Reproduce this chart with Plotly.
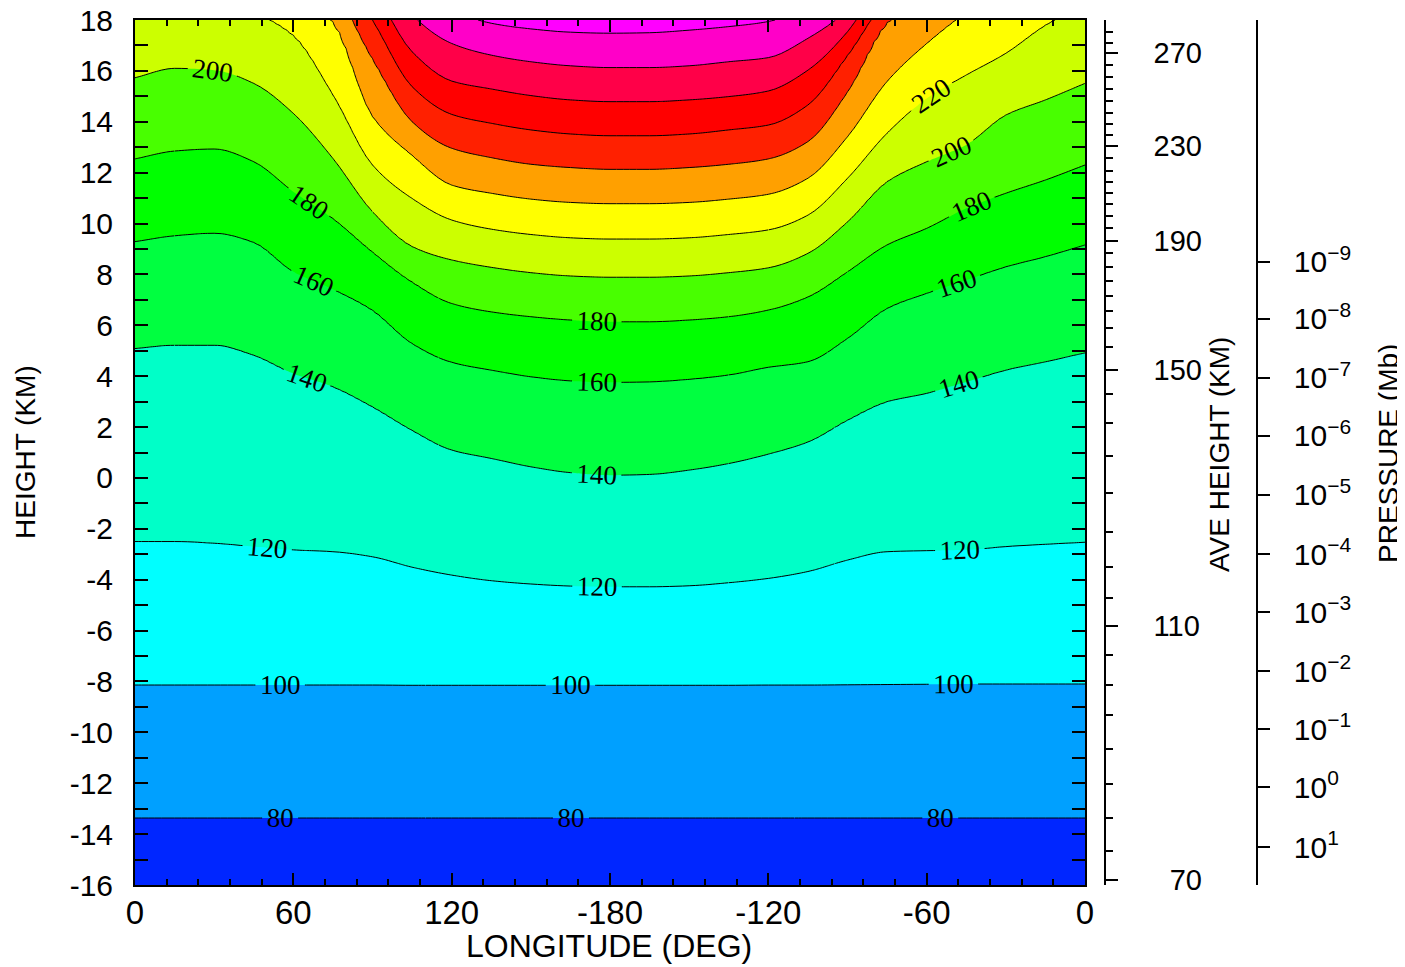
import numpy as np
import plotly.graph_objects as go

# ---------------- data ----------------
LONGITUDE = [0, 15, 30, 45, 60, 75, 90, 105, 120, 135, 150, 165, 180,
             195, 210, 225, 240, 255, 270, 285, 300, 315, 330, 345, 360]

CONTOUR_LEVELS = [60, 80, 100, 120, 140, 160, 180, 200, 220, 240, 260, 280, 300, 320, 340, 360]

# height (model units) at which each isoline crosses each longitude column
H060 = [-17.5, -17.5, -17.5, -17.5, -17.5, -17.5, -17.5, -17.5, -17.5, -17.5, -17.5, -17.5, -17.5,
        -17.5, -17.5, -17.5, -17.5, -17.5, -17.5, -17.5, -17.5, -17.5, -17.5, -17.5, -17.5]
H080 = [-13.37, -13.37, -13.37, -13.37, -13.37, -13.37, -13.37, -13.37, -13.37, -13.37, -13.37, -13.37, -13.37,
        -13.37, -13.37, -13.37, -13.37, -13.37, -13.37, -13.37, -13.37, -13.37, -13.37, -13.37, -13.37]
H100 = [-8.14, -8.14, -8.14, -8.14, -8.14, -8.14, -8.14, -8.15, -8.15, -8.15, -8.15, -8.15, -8.15,
        -8.15, -8.15, -8.15, -8.14, -8.14, -8.13, -8.12, -8.11, -8.10, -8.10, -8.10, -8.10]
H120 = [-2.50, -2.50, -2.57, -2.70, -2.83, -2.90, -3.10, -3.51, -3.82, -4.04, -4.17, -4.25, -4.28,
        -4.28, -4.24, -4.12, -3.95, -3.68, -3.23, -2.90, -2.86, -2.83, -2.70, -2.61, -2.53]
H140 = [5.09, 5.22, 5.22, 4.83, 4.11, 3.59, 2.80, 1.88, 1.10, 0.77, 0.44, 0.21, 0.11,
        0.14, 0.31, 0.57, 0.94, 1.42, 2.28, 3.00, 3.33, 3.78, 4.24, 4.57, 4.92]
H160 = [9.29, 9.52, 9.62, 9.26, 8.11, 7.42, 6.60, 5.29, 4.55, 4.24, 3.98, 3.82, 3.76,
        3.78, 3.88, 4.05, 4.35, 4.57, 5.49, 6.67, 7.26, 7.78, 8.30, 8.70, 9.16]
H180 = [12.54, 12.85, 12.93, 12.43, 11.25, 10.20, 8.89, 7.71, 6.86, 6.53, 6.34, 6.21, 6.14,
        6.14, 6.21, 6.34, 6.60, 7.12, 8.11, 9.16, 9.81, 10.60, 11.19, 11.71, 12.30]
H200 = [15.73, 16.10, 16.03, 15.51, 14.33, 12.56, 10.46, 9.09, 8.57, 8.28, 8.07, 7.94, 7.89,
        7.89, 7.94, 8.07, 8.26, 8.83, 10.07, 11.65, 12.43, 13.09, 14.27, 14.86, 15.51]
H220 = [18.9, 19.0, 18.8, 18.3, 17.41, 15.05, 12.30, 10.99, 10.14, 9.78, 9.57, 9.44, 9.39,
        9.39, 9.44, 9.57, 9.75, 10.33, 11.78, 13.55, 14.92, 15.84, 16.69, 17.80, 18.6]
H240 = [20.5, 20.6, 20.4, 19.9, 19.0, 17.94, 14.2, 12.69, 11.51, 11.19, 10.96, 10.83, 10.78,
        10.78, 10.83, 10.96, 11.15, 11.78, 13.41, 15.58, 17.08, 18.3, 19.2, 19.9, 20.4]
H260 = [21.8, 21.9, 21.7, 21.2, 20.3, 19.2, 16.49, 14.00, 12.96, 12.59, 12.33, 12.20, 12.13,
        12.13, 12.20, 12.33, 12.54, 13.22, 15.18, 17.9, 18.9, 19.8, 20.5, 21.1, 21.6]
H280 = [23.0, 23.1, 22.9, 22.4, 21.5, 20.3, 18.0, 15.38, 14.29, 13.94, 13.68, 13.52, 13.45,
        13.45, 13.52, 13.68, 13.87, 14.66, 16.62, 18.8, 19.9, 20.7, 21.4, 22.0, 22.6]
H300 = [24.2, 24.3, 24.1, 23.6, 22.7, 21.4, 19.3, 16.75, 15.60, 15.29, 15.03, 14.86, 14.79,
        14.79, 14.86, 14.99, 15.21, 16.03, 17.54, 19.8, 20.8, 21.6, 22.3, 22.9, 23.5]
H320 = [25.4, 25.5, 25.3, 24.8, 23.9, 22.5, 20.5, 18.2, 17.08, 16.62, 16.36, 16.20, 16.13,
        16.13, 16.20, 16.36, 16.52, 17.28, 18.4, 20.6, 21.7, 22.5, 23.2, 23.8, 24.4]
H340 = [26.6, 26.7, 26.5, 26.0, 25.1, 23.7, 21.7, 19.6, 18.4, 17.87, 17.65, 17.52, 17.48,
        17.50, 17.60, 17.74, 17.94, 18.5, 19.6, 21.8, 22.9, 23.7, 24.4, 25.0, 25.6]
H360 = [28.1, 28.2, 28.0, 27.5, 26.6, 25.2, 23.2, 21.1, 19.9, 19.37, 19.15, 19.02, 18.98,
        19.00, 19.10, 19.24, 19.44, 20.0, 21.1, 23.3, 24.4, 25.2, 25.9, 26.5, 27.1]

BAND_COLORS = ["#0026FF", "#00A0FF", "#00FFFF", "#00FFC8", "#00FF40", "#00FF00", "#48FF00",
               "#CCFF00", "#FFFF00", "#FFA000", "#FF2000", "#FF0000", "#FF0048", "#FF00C8", "#FF00FF"]

# longitude spans in which each isoline carries one label (label sits near the span centre)
LABEL_SPANS = {
    80:  [(0, 110), (112.5, 217.5), (250, 360)],
    100: [(0, 110), (112.5, 217.5), (260, 360)],
    120: [(0, 100), (125, 225), (265, 360)],
    140: [(15, 115), (125, 225), (265, 360)],
    160: [(15, 115), (125, 225), (262.5, 360)],
    180: [(15, 115), (125, 225), (270, 360)],
    200: [(0, 90), (275, 360)],
    220: [(240, 360)],
}

LON_TICKS = [0, 60, 120, 180, 240, 300, 360]
LON_LABELS = ["0", "60", "120", "-180", "-120", "-60", "0"]
Y_TICKS = [-16, -14, -12, -10, -8, -6, -4, -2, 0, 2, 4, 6, 8, 10, 12, 14, 16, 18]
Y_LABELS = ["-16", "-14", "-12", "-10", "-8", "-6", "-4", "-2", "0",
            "2", "4", "6", "8", "10", "12", "14", "16", "18"]

# right-hand "AVE HEIGHT (KM)" axis: labels and their positions on the height scale
AVE_LABELS = ["\u200770", "110", "150", "190", "230", "270"]
AVE_POS = [-15.80, -5.82, 4.24, 9.31, 13.05, 16.70]
AVE_MINOR_POS = [-14.66, -13.37, -12.03, -10.66, -9.32, -8.14, -6.96,
                 -4.72, -3.50, -2.13, -0.59, 0.86, 2.16, 3.30,
                 5.15, 5.89, 6.56, 7.15, 7.74, 8.29, 8.84,
                 9.82, 10.30, 10.77, 11.20, 11.63, 12.06, 12.58,
                 13.48, 13.91, 14.34, 14.82, 15.29, 15.76, 16.23,
                 17.10, 17.53]

# right-hand "PRESSURE (Mb)" axis
PRES_EXP = ["\u22129", "\u22128", "\u22127", "\u22126", "\u22125", "\u22124",
            "\u22123", "\u22122", "\u22121", "0", "1"]
PRES_POS = [8.49, 6.25, 3.93, 1.65, -0.67, -2.99, -5.27, -7.59, -9.87, -12.15, -14.51]


# ---------------- gridded field for the contour renderer ----------------
def pchip(xk, yk, xq):
    """Shape-preserving cubic through the read points (rendering only)."""
    xk = np.asarray(xk, float)
    yk = np.asarray(yk, float)
    h = np.diff(xk)
    d = np.diff(yk) / h
    m = np.zeros_like(yk)
    for i in range(1, len(yk) - 1):
        if d[i - 1] * d[i] > 0:
            w1 = 2 * h[i] + h[i - 1]
            w2 = h[i] + 2 * h[i - 1]
            m[i] = (w1 + w2) / (w1 / d[i - 1] + w2 / d[i])
    m[0], m[-1] = d[0], d[-1]
    k = np.clip(np.searchsorted(xk, xq, side="right") - 1, 0, len(h) - 1)
    t = (xq - xk[k]) / h[k]
    return ((2 * t**3 - 3 * t**2 + 1) * yk[k] + (t**3 - 2 * t**2 + t) * h[k] * m[k]
            + (-2 * t**3 + 3 * t**2) * yk[k + 1] + (t**3 - t**2) * h[k] * m[k + 1])


isolines = [H060, H080, H100, H120, H140, H160, H180, H200, H220,
            H240, H260, H280, H300, H320, H340, H360]
x_grid = np.arange(0, 360.001, 2.5)
y_grid = np.round(np.arange(-16.0, 18.0001, 0.05), 4)
curves = np.array([pchip(LONGITUDE, line, x_grid) for line in isolines])
for k in range(1, len(curves)):
    curves[k] = np.maximum(curves[k], curves[k - 1] + 0.02)
z = np.empty((len(y_grid), len(x_grid)))
for i in range(len(x_grid)):
    z[:, i] = np.interp(y_grid, curves[:, i], CONTOUR_LEVELS)

# discrete colour scale: 15 fill regions sampled at k/14
n = len(BAND_COLORS) - 1
colorscale = []
for k, c in enumerate(BAND_COLORS):
    colorscale.append([max(0.0, (k - 0.5) / n), c])
    colorscale.append([min(1.0, (k + 0.5) / n), c])

SANS = "Liberation Sans"
LABEL_FONT = dict(family="Liberation Serif", size=27, color="black")
LINE = dict(color="black", width=1, smoothing=1.0)

fig = go.Figure()
fig.add_trace(go.Contour(
    x=x_grid, y=y_grid, z=z, colorscale=colorscale, showscale=False,
    autocontour=False,
    contours=dict(start=80, end=340, size=20, coloring="fill", showlines=False),
    line=dict(width=0), hoverinfo="skip",
))


def add_isoline(level, a, b, labelled):
    idx = np.where((x_grid >= a - 1e-6) & (x_grid <= b + 1e-6))[0]
    fig.add_trace(go.Contour(
        x=x_grid[idx], y=y_grid, z=z[:, idx],
        showscale=False, autocontour=False,
        contours=dict(start=level, end=level, size=20, coloring="none",
                      showlabels=labelled, labelfont=LABEL_FONT),
        line=LINE, hoverinfo="skip",
    ))


for level, spans in LABEL_SPANS.items():
    cursor = 0
    for a, b in spans:
        if a > cursor:
            add_isoline(level, cursor, a, False)
        add_isoline(level, a, b, True)
        cursor = b
    if cursor < 360:
        add_isoline(level, cursor, 360, False)

fig.add_trace(go.Contour(
    x=x_grid, y=y_grid, z=z, showscale=False, autocontour=False,
    contours=dict(start=240, end=340, size=20, coloring="none", showlabels=False),
    line=LINE, hoverinfo="skip",
))
fig.add_trace(go.Scatter(x=[None], y=[None], yaxis="y2", showlegend=False, hoverinfo="skip"))
fig.add_trace(go.Scatter(x=[None], y=[None], yaxis="y3", showlegend=False, hoverinfo="skip"))

OFF = 8                      # page body margin
W, H = 1405 - OFF, 967 - OFF
L, T = 135 - OFF, 20 - OFF
R = 97
B = H - T - 865
PW = W - L - R


def px_x(X):
    return (X - 135) / PW


def px_y(Y):
    return (885 - Y) / 865


def title(text, X, Y, size, angle=0):
    return dict(text=text, xref="paper", yref="paper", x=px_x(X), y=px_y(Y),
                xanchor="center", yanchor="middle", textangle=angle, showarrow=False,
                font=dict(family=SANS, size=size, color="black"))


fig.update_layout(
    template="none",
    width=W, height=H,
    margin=dict(l=L, r=R, t=T, b=B, autoexpand=False),
    paper_bgcolor="white", plot_bgcolor="white",
    showlegend=False,
    xaxis=dict(domain=[0, 950 / PW], range=[0, 360], tickmode="array",
               tickvals=LON_TICKS, ticktext=LON_LABELS,
               ticks="inside", ticklen=12, tickwidth=1.5, tickcolor="black",
               minor=dict(tickmode="linear", tick0=0, dtick=12, ticks="inside",
                          ticklen=6, tickwidth=1.5, tickcolor="black", showgrid=False),
               showline=True, linecolor="black", linewidth=2, mirror="ticks",
               showgrid=False, zeroline=False, automargin=False,
               tickfont=dict(family=SANS, size=33, color="black"),
               ticklabelstandoff=-3, ticklabeloverflow="allow"),
    yaxis=dict(range=[-16, 18], tickmode="array", tickvals=Y_TICKS, ticktext=Y_LABELS,
               ticks="inside", ticklen=13, tickwidth=1.5, tickcolor="black",
               minor=dict(tickmode="linear", tick0=0, dtick=1, ticks="inside",
                          ticklen=13, tickwidth=1.5, tickcolor="black", showgrid=False),
               showline=True, linecolor="black", linewidth=2, mirror="ticks",
               showgrid=False, zeroline=False, automargin=False,
               tickfont=dict(family=SANS, size=30, color="black"),
               ticklabelstandoff=14, ticklabeloverflow="allow"),
    yaxis2=dict(overlaying="y", anchor="free", position=px_x(1105), side="right",
                range=[-16, 18], tickmode="array", tickvals=AVE_POS, ticktext=AVE_LABELS,
                ticks="outside", ticklen=12, tickwidth=1.5, tickcolor="black",
                minor=dict(tickmode="array", tickvals=AVE_MINOR_POS, ticks="outside",
                           ticklen=7, tickwidth=1.5, tickcolor="black", showgrid=False),
                showline=True, linecolor="black", linewidth=1.5,
                showgrid=False, zeroline=False, automargin=False,
                tickfont=dict(family=SANS, size=29, color="black"),
                ticklabelstandoff=30, ticklabeloverflow="allow"),
    yaxis3=dict(overlaying="y", anchor="free", position=px_x(1257), side="right",
                range=[-16, 18], tickmode="array", tickvals=PRES_POS,
                ticktext=["10<sup>%s</sup>" % e for e in PRES_EXP],
                ticks="outside", ticklen=12, tickwidth=1.5, tickcolor="black",
                showline=True, linecolor="black", linewidth=1.5,
                showgrid=False, zeroline=False, automargin=False,
                tickfont=dict(family=SANS, size=30, color="black"),
                ticklabelstandoff=18, ticklabeloverflow="allow"),
    annotations=[
        title("HEIGHT (KM)", 25, 452, 28, -90),
        title("LONGITUDE (DEG)", 609, 946, 32),
        title("AVE HEIGHT (KM)", 1219, 455, 28, -90),
        title("PRESSURE (Mb)", 1388, 454, 28, -90),
    ],
)

fig.write_html("out.html")
